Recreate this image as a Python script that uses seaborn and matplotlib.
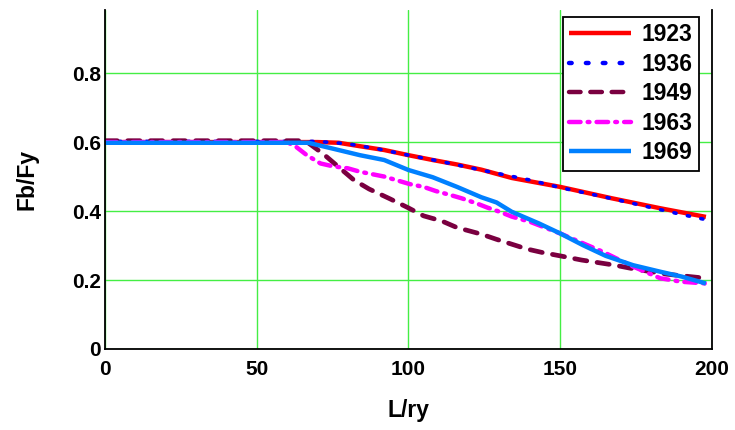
import matplotlib
matplotlib.use("Agg")
import matplotlib.pyplot as plt
import seaborn as sns

# ---- data ----
x1923 = [0, 70, 77, 84, 92, 100, 108, 116, 124, 134, 150, 167, 183, 198]
y1923 = [0.6, 0.6, 0.598, 0.588, 0.577, 0.562, 0.548, 0.535, 0.52, 0.496, 0.47, 0.437, 0.408, 0.383]

x1936 = [0, 70, 80, 90, 100, 110, 125, 140, 150, 165, 180, 190, 198]
y1936 = [0.602, 0.602, 0.595, 0.58, 0.562, 0.545, 0.517, 0.49, 0.468, 0.44, 0.41, 0.39, 0.375]

x1949 = [0, 66, 72, 76, 82, 87, 94, 100, 105, 111, 116, 124, 129, 139, 144, 150, 157, 168, 175, 185, 196, 198]
y1949 = [0.604, 0.604, 0.565, 0.535, 0.49, 0.464, 0.435, 0.409, 0.386, 0.371, 0.352, 0.333, 0.318, 0.29,
         0.28, 0.27, 0.258, 0.243, 0.231, 0.217, 0.207, 0.207]

x1963 = [0, 60, 63, 66.5, 71, 75, 80, 84, 92, 97, 100.5, 105, 109, 114, 117.5, 122.5, 126, 130, 134, 140,
         150, 155, 164, 174, 183, 190, 198]
y1963 = [0.6, 0.6, 0.586, 0.562, 0.538, 0.53, 0.524, 0.514, 0.5, 0.487, 0.478, 0.47, 0.458, 0.446, 0.437,
         0.422, 0.41, 0.398, 0.384, 0.369, 0.335, 0.316, 0.282, 0.239, 0.205, 0.195, 0.19]

x1969 = [0, 67, 76, 84, 92, 100, 108, 116, 124, 129, 134, 143, 150, 157.5, 165, 174, 183, 190, 198]
y1969 = [0.598, 0.598, 0.579, 0.562, 0.548, 0.519, 0.498, 0.47, 0.44, 0.425, 0.398, 0.364, 0.335, 0.301,
         0.27, 0.243, 0.224, 0.21, 0.19]

xticks = [0, 50, 100, 150, 200]
yticks = [0, 0.2, 0.4, 0.6, 0.8]
ytick_labels = ["0", "0.2", "0.4", "0.6", "0.8"]

sns.set_style("white")
plt.rcParams["font.family"] = ["Liberation Sans", "DejaVu Sans"]
plt.rcParams["font.weight"] = "bold"
plt.rcParams["text.color"] = "black"
plt.rcParams["axes.labelcolor"] = "black"
plt.rcParams["xtick.color"] = "black"
plt.rcParams["ytick.color"] = "black"

fig = plt.figure(figsize=(7.35, 4.3), dpi=100)
ax = fig.add_axes([105 / 735, 1 - 349 / 430, (712 - 105) / 735, (349 - 10) / 430])

series = [
    ("1923", x1923, y1923, "#ff0000", "-", 3.2),
    ("1936", x1936, y1936, "#0000ff", (0, (0.6, 3.2)), 2.6),
    ("1949", x1949, y1949, "#7a0040", (0, (2.6, 2.2)), 3.4),
    ("1963", x1963, y1963, "#ff00ff", (0, (2.6, 1.6, 0.4, 1.6)), 3.2),
    ("1969", x1969, y1969, "#0080ff", "-", 3.2),
]
for lab, xs, ys, col, ls, lw in series:
    sns.lineplot(x=xs, y=ys, ax=ax, color=col, linestyle=ls, linewidth=lw, label=lab,
                 sort=False, estimator=None)
for line in ax.get_lines():
    line.set_dash_capstyle("round")
    line.set_solid_capstyle("butt")

ax.set_xlim(0, 200)
ax.set_ylim(0, 0.983)
ax.set_xticks(xticks)
ax.set_xticklabels([str(t) for t in xticks])
ax.set_yticks(yticks)
ax.set_yticklabels(ytick_labels)
ax.tick_params(axis="x", length=0, labelsize=15, pad=8, labelcolor="black")
ax.tick_params(axis="y", length=0, labelsize=15, pad=3, labelcolor="black")
for t in ax.get_xticklabels() + ax.get_yticklabels():
    t.set_fontweight("bold")

ax.grid(True, color="#44ee44", linewidth=1.0)
ax.set_axisbelow(True)
for side in ["left", "bottom", "right"]:
    ax.spines[side].set_visible(True)
    ax.spines[side].set_color("black")
    ax.spines[side].set_linewidth(1.3)
ax.spines["top"].set_visible(False)

ax.set_xlabel("L/ry", fontsize=16.5, fontweight="bold", labelpad=14, color="black")
ax.set_ylabel("Fb/Fy", fontsize=16.5, fontweight="bold", labelpad=24, color="black")

leg = ax.legend(loc="upper right", bbox_to_anchor=(699 / 735, 1 - 17 / 430),
                bbox_transform=fig.transFigure, borderaxespad=0, frameon=True, fancybox=False,
                prop={"size": 16.5, "weight": "bold"}, handlelength=2.7, handletextpad=0.45,
                labelspacing=0.28, borderpad=0.28)
leg.get_frame().set_edgecolor("black")
leg.get_frame().set_linewidth(1.3)
leg.get_frame().set_alpha(1)
for t in leg.get_texts():
    t.set_color("black")
for h in leg.get_lines():
    h.set_linewidth(3.2)

fig.savefig("out.png", dpi=100)
